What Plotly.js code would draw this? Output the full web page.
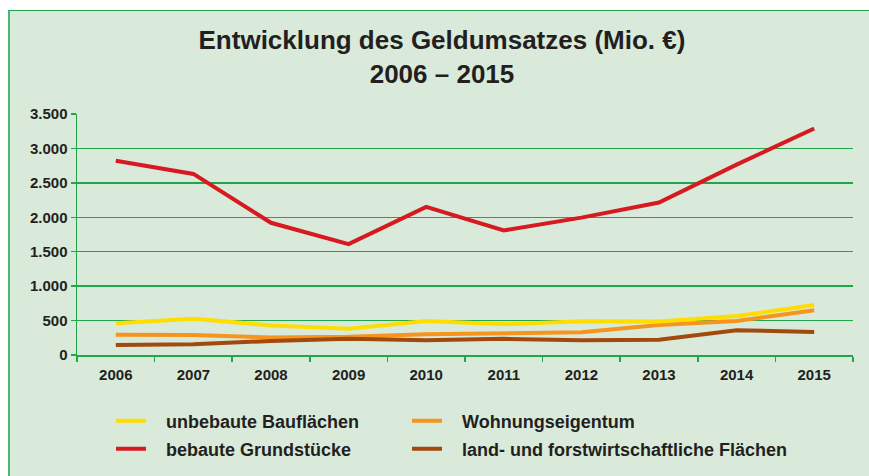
<!DOCTYPE html>
<html>
<head>
<meta charset="utf-8">
<script src="https://cdn.plot.ly/plotly-3.0.1.min.js"></script>
<style>
  html, body { margin: 0; padding: 0; background: #ffffff; }
  #wrap { position: relative; width: 869px; height: 476px; overflow: hidden; }
  #bg { position: absolute; left: 8px; top: 10px; width: 861px; height: 466px;
        background: #d9eadb; border-left: 2px solid #45b873; border-top: 1.5px solid #1aa64b; box-sizing: border-box; }
  #chart { position: absolute; left: 0; top: 0; width: 869px; height: 476px; }
</style>
</head>
<body>
<div id="wrap">
  <div id="bg"></div>
  <div id="chart"></div>
</div>
<script>
const years = ['2006','2007','2008','2009','2010','2011','2012','2013','2014','2015'];
const unbebaute = [460, 525, 430, 380, 495, 445, 490, 485, 565, 725];
const bebaute = [2820, 2630, 1920, 1610, 2150, 1810, 1995, 2215, 2765, 3290];
const wohnung = [295, 290, 255, 265, 300, 315, 330, 435, 495, 650];
const landforst = [145, 155, 205, 235, 215, 235, 215, 220, 360, 335];

const names = {
  unbebaute: 'unbebaute Bauflächen',
  bebaute: 'bebaute Grundstücke',
  wohnung: 'Wohnungseigentum',
  landforst: 'land- und forstwirtschaftliche Flächen'
};
const colors = { unbebaute: '#ffdd00', bebaute: '#d71920', wohnung: '#f7941d', landforst: '#a2490d' };
const pad = '\u00a0\u00a0\u00a0';

function tr(y, key, legend) {
  return { x: years, y: y, type: 'scatter', mode: 'lines', name: pad + names[key],
           line: { color: colors[key], width: 4 }, legend: legend, hoverinfo: 'x+y+name' };
}

const data = [
  tr(wohnung, 'wohnung', 'legend2'),
  tr(landforst, 'landforst', 'legend4'),
  tr(unbebaute, 'unbebaute', 'legend'),
  tr(bebaute, 'bebaute', 'legend3')
];

const green = '#22a64c';
const fontFam = 'Liberation Sans, Arial, sans-serif';
const txt = '#231f20';

function leg(xpx, ypx) {
  return {
    orientation: 'h', xref: 'container', yref: 'container',
    x: xpx / 869, xanchor: 'left', y: 1 - ypx / 476, yanchor: 'middle',
    bgcolor: 'rgba(0,0,0,0)', borderwidth: 0,
    font: { family: fontFam, size: 18, color: txt, weight: 'bold' }
  };
}

const layout = {
  width: 869, height: 476,
  paper_bgcolor: 'rgba(0,0,0,0)', plot_bgcolor: 'rgba(0,0,0,0)',
  margin: { l: 77, r: 16, t: 113.7, b: 121.3 },
  showlegend: true,
  title: {
    text: 'Entwicklung des Geldumsatzes (Mio. €)<br>2006 – 2015',
    font: { family: fontFam, size: 26, color: txt, weight: 'bold' },
    x: 0.5086, xanchor: 'center', xref: 'container',
    y: 1 - 49 / 476, yanchor: 'top', yref: 'container'
  },
  xaxis: {
    type: 'category', range: [-0.5, 9.5], fixedrange: true,
    showline: true, linecolor: green, linewidth: 1.5,
    showgrid: false, zeroline: false,
    ticks: 'outside', tickson: 'boundaries', ticklen: 5, tickcolor: green, tickwidth: 1.5,
    ticklabelstandoff: 5,
    tickfont: { family: fontFam, size: 15, color: txt, weight: 'bold' }
  },
  yaxis: {
    range: [0, 3500], dtick: 500, tick0: 0, fixedrange: true,
    tickformat: ',d',
    showline: true, linecolor: green, linewidth: 1.5,
    showgrid: true, gridcolor: green, gridwidth: 1.5, zeroline: false,
    ticks: 'outside', ticklen: 5, tickcolor: green, tickwidth: 1.5,
    tickfont: { family: fontFam, size: 15, color: txt, weight: 'bold' }
  },
  separators: ',.',
  legend: leg(111, 421),
  legend2: leg(407, 421),
  legend3: leg(111, 449),
  legend4: leg(407, 449)
};

Plotly.newPlot('chart', data, layout, { displayModeBar: false, staticPlot: true });
</script>
</body>
</html>
